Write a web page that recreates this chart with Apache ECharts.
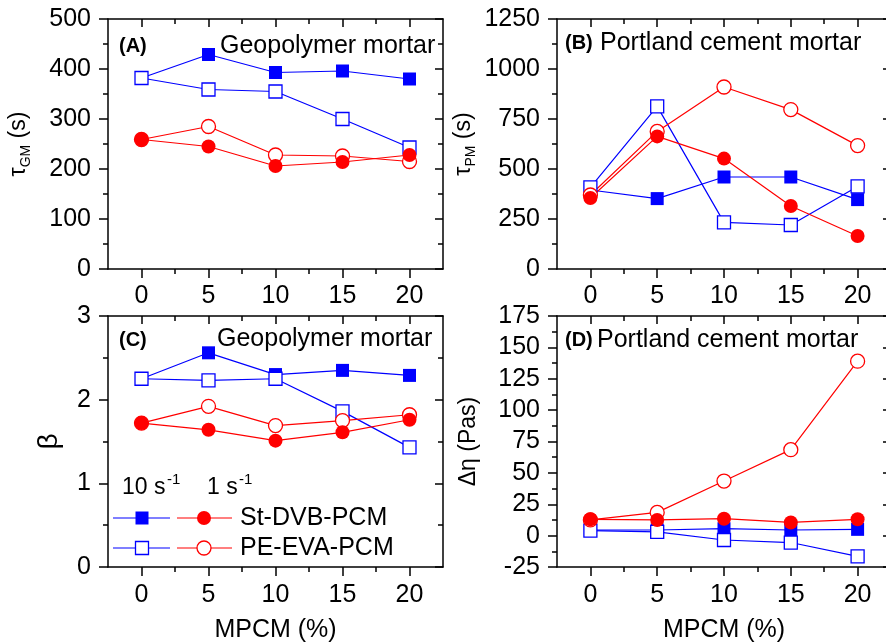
<!DOCTYPE html>
<html>
<head>
<meta charset="utf-8">
<script src="https://cdn.jsdelivr.net/npm/echarts@6/dist/echarts.min.js"></script>
<style>
  html, body { margin: 0; padding: 0; background: #fff; }
  #chart { width: 886px; height: 644px; }
</style>
</head>
<body>
<div id="chart"></div>
<script>
// MPCM content (%) on the x axis
const mpcm = [0, 5, 10, 15, 20];
const xMajor = [0, 5, 10, 15, 20];
const xMinor = [2.5, 7.5, 12.5, 17.5];

// (A) geopolymer mortar, tau_GM (s)
const gmStDvb10 = [382, 429, 393, 396, 380];
const gmPeEva10 = [382, 359, 355, 300, 243];
const gmPeEva1 = [259, 285, 228, 226, 215];
const gmStDvb1 = [259, 245, 206, 214, 228];

// (B) portland cement mortar, tau_PM (s)
const pmStDvb10 = [395, 352, 460, 460, 347];
const pmPeEva10 = [408, 813, 233, 220, 413];
const pmPeEva1 = [370, 688, 910, 797, 617];
const pmStDvb1 = [355, 663, 552, 315, 165];

// (C) geopolymer mortar, beta
const gbStDvb10 = [2.25, 2.56, 2.30, 2.35, 2.29];
const gbPeEva10 = [2.25, 2.23, 2.25, 1.86, 1.43];
const gbPeEva1 = [1.72, 1.92, 1.69, 1.75, 1.82];
const gbStDvb1 = [1.72, 1.64, 1.51, 1.61, 1.76];

// (D) portland cement mortar, delta eta (Pas)
const deStDvb10 = [4.5, 4.5, 5.5, 4.5, 5];
const dePeEva10 = [4, 3, -3.5, -5.5, -16.5];
const dePeEva1 = [12.5, 18.5, 43.5, 68.5, 139];
const deStDvb1 = [13, 12.5, 13.5, 10.5, 13];

const FONT = '"Liberation Sans", Arial, sans-serif';
const BLUE = '#0000ff';
const RED = '#ff0000';

const panels = [
  { box: { left: 108, top: 19, width: 335, height: 250 }, y: [0, 500, 100],
    yName: '{m|τ}{s|GM}{m| (s)}', yNameGap: 75, xName: '', xMargin: 15,
    data: [gmStDvb10, gmPeEva10, gmPeEva1, gmStDvb1] },
  { box: { left: 557, top: 19, width: 334, height: 250 }, y: [0, 1250, 250],
    yName: '{m|τ}{s|PM}{m| (s)}', yNameGap: 79, xName: '', xMargin: 15,
    data: [pmStDvb10, pmPeEva10, pmPeEva1, pmStDvb1] },
  { box: { left: 108, top: 316, width: 335, height: 251 }, y: [0, 3, 1],
    yName: '{g|β}', yNameGap: 45, xName: 'MPCM (%)', xMargin: 16,
    data: [gbStDvb10, gbPeEva10, gbPeEva1, gbStDvb1] },
  { box: { left: 557, top: 316, width: 334, height: 251 }, y: [-25, 175, 25],
    yName: '{m|Δη (Pas)}', yNameGap: 77, xName: 'MPCM (%)', xMargin: 16,
    data: [deStDvb10, dePeEva10, dePeEva1, deStDvb1] }
];

// blue filled, blue open, red open, red filled (draw order as in the figure)
const looks = [
  { color: BLUE, symbol: 'rect', filled: true },
  { color: BLUE, symbol: 'rect', filled: false },
  { color: RED, symbol: 'circle', filled: false },
  { color: RED, symbol: 'circle', filled: true }
];

const black = { color: '#000', width: 1.5 };
const grid = [], xAxis = [], yAxis = [], series = [];

panels.forEach((p, i) => {
  grid.push(Object.assign({ containLabel: false, outerBoundsMode: 'none' }, p.box));
  const xBase = { gridIndex: i, type: 'value', min: -2.5, max: 22.5, splitLine: { show: false } };
  // bottom axis, major ticks + labels
  xAxis.push(Object.assign({}, xBase, {
    position: 'bottom',
    axisLine: { onZero: false, lineStyle: black },
    axisTick: { customValues: xMajor, length: 9, lineStyle: black },
    axisLabel: { customValues: xMajor, margin: p.xMargin, fontSize: 25, fontFamily: FONT, color: '#000',
      formatter: v => String(v) },
    name: p.xName, nameLocation: 'middle', nameGap: 51, nameMoveOverlap: false,
    nameTextStyle: { fontSize: 25, fontFamily: FONT, color: '#000' }
  }));
  // bottom axis, minor ticks
  xAxis.push(Object.assign({}, xBase, {
    position: 'bottom',
    axisLine: { show: false, onZero: false },
    axisTick: { customValues: xMinor, length: 5, lineStyle: black },
    axisLabel: { show: false }
  }));
  // top mirror axis
  xAxis.push(Object.assign({}, xBase, {
    position: 'top',
    axisLine: { onZero: false, lineStyle: black },
    axisTick: { customValues: xMajor, inside: true, length: 8, lineStyle: black },
    axisLabel: { show: false }
  }));
  xAxis.push(Object.assign({}, xBase, {
    position: 'top',
    axisLine: { show: false, onZero: false },
    axisTick: { customValues: xMinor, inside: true, length: 5, lineStyle: black },
    axisLabel: { show: false }
  }));

  const yBase = { gridIndex: i, type: 'value', min: p.y[0], max: p.y[1], interval: p.y[2],
    splitLine: { show: false } };
  yAxis.push(Object.assign({}, yBase, {
    position: 'left',
    axisLine: { onZero: false, lineStyle: black },
    axisTick: { length: 9, lineStyle: black },
    minorTick: { show: true, splitNumber: 2, length: 5, lineStyle: black },
    axisLabel: { margin: 17, fontSize: 25, fontFamily: FONT, color: '#000', formatter: v => String(v) },
    name: p.yName, nameLocation: 'middle', nameRotate: 90, nameGap: p.yNameGap, nameMoveOverlap: false,
    nameTextStyle: {
      rich: {
        m: { fontSize: 23, fontFamily: FONT, color: '#000', verticalAlign: 'top' },
        g: { fontSize: 28, fontFamily: FONT, color: '#000', verticalAlign: 'top' },
        s: { fontSize: 14, fontFamily: FONT, color: '#000', verticalAlign: 'top', padding: [12, 0, 0, 0] }
      }
    }
  }));
  yAxis.push(Object.assign({}, yBase, {
    position: 'right',
    axisLine: { onZero: false, lineStyle: black },
    axisTick: { inside: true, length: 8, lineStyle: black },
    minorTick: { show: true, splitNumber: 2, length: 5, lineStyle: black },
    axisLabel: { show: false }
  }));

  p.data.forEach((vals, k) => {
    const lk = looks[k];
    series.push({
      type: 'line',
      xAxisIndex: i * 4,
      yAxisIndex: i * 2,
      data: mpcm.map((x, j) => [x, vals[j]]),
      symbol: lk.symbol,
      symbolSize: lk.symbol === 'rect' ? 13 : 14,
      showAllSymbol: true,
      lineStyle: { color: lk.color, width: 1.2 },
      itemStyle: { color: lk.filled ? lk.color : '#fff', borderColor: lk.color,
        borderWidth: lk.filled ? 0 : 1.3, opacity: 1 },
      emphasis: { disabled: true },
      animation: false
    });
  });
});

// panel tags and titles
const txt = (x, y, text, size, bold) => ({
  type: 'text', x: x, y: y, z: 100,
  style: { text: text, fontSize: size, fontWeight: bold ? 'bold' : 'normal', fontFamily: FONT,
    fill: '#000', align: 'left', verticalAlign: 'middle' }
});
const graphic = [
  txt(119, 46, '(A)', 20, true), txt(220, 46, 'Geopolymer mortar', 25),
  txt(565, 43, '(B)', 20, true), txt(600, 43, 'Portland cement mortar', 25),
  txt(119, 340, '(C)', 20, true), txt(217, 339, 'Geopolymer mortar', 25),
  txt(565, 340, '(D)', 20, true), txt(597, 340, 'Portland cement mortar', 25)
];

// legend inside panel C: shear-rate headers (superscript drawn as a separate smaller text)
graphic.push(
  txt(122, 488, '10 s', 23), txt(167, 480, '-1', 15),
  txt(207, 488, '1 s', 23), txt(239, 480, '-1', 15)
);

const legendRows = [
  { y: 518, filled: true, label: 'St-DVB-PCM' },
  { y: 548, filled: false, label: 'PE-EVA-PCM' }
];
legendRows.forEach(r => {
  graphic.push(
    { type: 'line', z: 100, shape: { x1: 113, y1: r.y, x2: 170, y2: r.y }, style: { stroke: BLUE, lineWidth: 1.2 } },
    { type: 'rect', z: 101, shape: { x: 142 - 6.5, y: r.y - 6.5, width: 13, height: 13 },
      style: { fill: r.filled ? BLUE : '#fff', stroke: BLUE, lineWidth: r.filled ? 0 : 1.3 } },
    { type: 'line', z: 100, shape: { x1: 177, y1: r.y, x2: 232, y2: r.y }, style: { stroke: RED, lineWidth: 1.2 } },
    { type: 'circle', z: 101, shape: { cx: 204, cy: r.y, r: 7 },
      style: { fill: r.filled ? RED : '#fff', stroke: RED, lineWidth: r.filled ? 0 : 1.3 } },
    txt(240, r.y, r.label, 25)
  );
});

const chart = echarts.init(document.getElementById('chart'));
chart.setOption({
  animation: false,
  backgroundColor: '#fff',
  grid: grid,
  xAxis: xAxis,
  yAxis: yAxis,
  series: series,
  graphic: graphic
});
</script>
</body>
</html>
